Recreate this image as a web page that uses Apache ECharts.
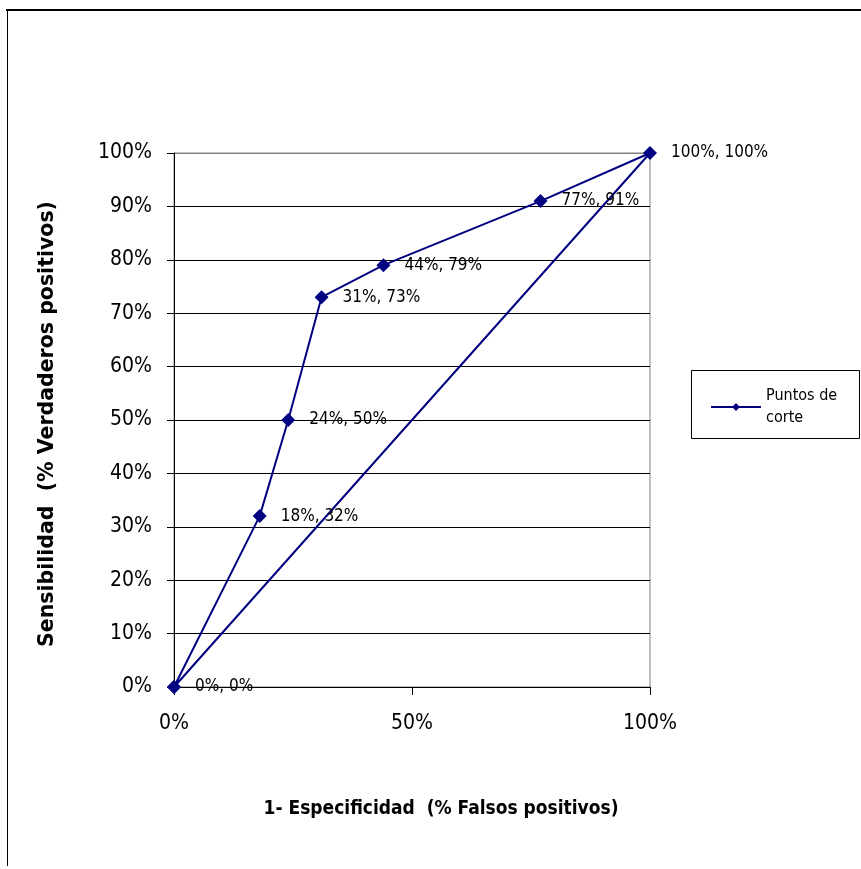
<!DOCTYPE html>
<html><head><meta charset="utf-8">
<script src="https://cdn.jsdelivr.net/npm/echarts@6/dist/echarts.min.js"></script>
<style>html,body{margin:0;padding:0;background:#fff}#c{width:861px;height:869px}</style>
</head><body><div id="c"></div>
<script>
// Data (fractions)
const falsePositive = [0, 0.18, 0.24, 0.31, 0.44, 0.77, 1.00, 0];
const truePositive  = [0, 0.32, 0.50, 0.73, 0.79, 0.91, 1.00, 0];
const pointLabels = ['0%, 0%', '18%, 32%', '24%, 50%', '31%, 73%', '44%, 79%', '77%, 91%', '100%, 100%', ''];
const seriesName = 'Puntos de\ncorte';
const xTitle = '1- Especificidad  (% Falsos positivos)';
const yTitle = 'Sensibilidad  (% Verdaderos positivos)';

const FONT = 'DejaVu Sans Condensed';
const chart = echarts.init(document.getElementById('c'));
const data = falsePositive.map((x, i) => ({value: [x, truePositive[i]], label: {show: pointLabels[i] !== '', formatter: pointLabels[i]}}));
const splitColors = ['#000','#000','#000','#000','#000','#000','#000','#000','#000','#000','#808080'];

chart.setOption({
  animation: false,
  backgroundColor: '#fff',
  grid: {left: 174, top: 153, width: 476, height: 534, show: true, borderColor: '#808080', borderWidth: 1},
  xAxis: {
    type: 'value', min: 0, max: 1, interval: 0.5,
    axisLine: {lineStyle: {color: '#000', width: 1}},
    axisTick: {show: true, length: 8, lineStyle: {color: '#000'}},
    splitLine: {show: false},
    axisLabel: {margin: 26, color: '#000', fontFamily: FONT, fontSize: 21, formatter: v => Math.round(v * 100) + '%'},
    name: xTitle, nameLocation: 'middle', nameGap: 113,
    nameTextStyle: {color: '#000', fontFamily: FONT, fontWeight: 'bold', fontSize: 19, padding: [0, 0, 0, 58]}
  },
  yAxis: {
    type: 'value', min: 0, max: 1, interval: 0.1,
    axisLine: {show: true, lineStyle: {color: '#000', width: 1}},
    axisTick: {show: true, length: 7, lineStyle: {color: '#000'}},
    splitLine: {show: true, lineStyle: {color: splitColors, width: 1}},
    axisLabel: {margin: 22, color: '#000', fontFamily: FONT, fontSize: 21, formatter: v => Math.round(v * 100) + '%'},
    name: yTitle, nameLocation: 'middle', nameGap: 116, nameRotate: 90,
    nameTextStyle: {color: '#000', fontFamily: 'DejaVu Sans', fontWeight: 'bold', fontSize: 20.5, padding: [0, 8, 0, 0]}
  },
  legend: {
    show: true, left: 705, top: 380, orient: 'vertical',
    itemWidth: 50, itemHeight: 10, itemGap: 4,
    textStyle: {color: '#000', fontFamily: FONT, fontSize: 16, lineHeight: 22},
    data: [{name: seriesName}]
  },
  graphic: [
    {type: 'rect', shape: {x: 691.5, y: 370.5, width: 168, height: 68}, style: {fill: 'none', stroke: '#000', lineWidth: 1}, silent: true},
    {type: 'line', shape: {x1: 6, y1: 10, x2: 861, y2: 10}, style: {stroke: '#000', lineWidth: 2}, silent: true},
    {type: 'line', shape: {x1: 7.5, y1: 10, x2: 7.5, y2: 866}, style: {stroke: '#000', lineWidth: 1}, silent: true}
  ],
  series: [{
    name: seriesName, type: 'line', data: data,
    symbol: 'diamond', symbolSize: 14,
    lineStyle: {color: '#000080', width: 2},
    itemStyle: {color: '#000080'},
    label: {position: 'right', distance: 14, color: '#000', fontFamily: FONT, fontSize: 17},
    z: 5
  }]
});
</script></body></html>
